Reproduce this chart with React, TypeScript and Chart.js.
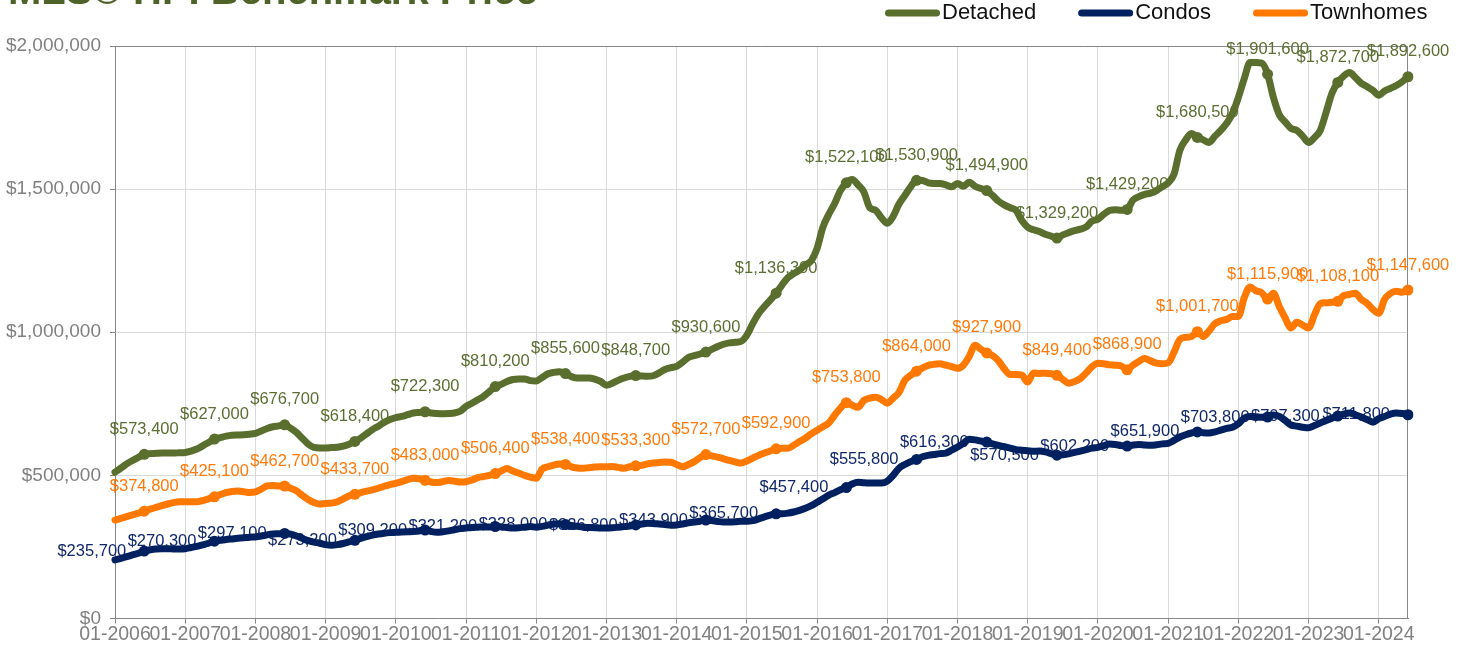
import React, { useEffect, useRef } from "react";
import { Chart, registerables } from "chart.js";

Chart.register(...registerables);

// ---------- DATA ----------
const YEARS = [2006, 2007, 2008, 2009, 2010, 2011, 2012, 2013, 2014, 2015, 2016, 2017, 2018, 2019, 2020, 2021, 2022, 2023, 2024];
const MONTHS = ["01", "02", "03", "04", "05", "06", "07", "08", "09", "10", "11", "12"];
const LAST_MONTH_2024 = 6;

const categories: string[] = [];
for (const y of YEARS) {
  for (const m of MONTHS) {
    if (y === 2024 && parseInt(m, 10) > LAST_MONTH_2024) break;
    categories.push(`${m}-${y}`);
  }
}

// Values in thousands of dollars
const detachedK = [
  511, 525, 540, 552, 563, 573.4, 576, 577, 578, 578, 578, 579,
  580, 585, 592, 603, 615, 627.0, 632, 637, 640, 641, 642, 644,
  647, 655, 664, 670, 673, 676.7, 665, 650, 630, 610, 598, 596,
  596, 597, 598, 602, 609, 618.4, 630, 645, 660, 672, 685, 695,
  702, 706, 712, 718, 720, 722.3, 718, 716, 715, 716, 718, 724,
  741, 752, 764, 776, 793, 810.2, 818, 828, 835, 837, 837, 831,
  830, 842, 855, 860, 862, 855.6, 845, 840, 840, 840, 836, 828,
  815, 822, 832, 840, 846, 848.7, 847, 846, 848, 858, 870, 876,
  881, 895, 912, 918, 924, 930.6, 940, 950, 958, 963, 965, 968,
  990, 1030, 1065, 1090, 1112, 1136.3, 1165, 1190, 1205, 1217, 1235, 1250,
  1293, 1367, 1412, 1450, 1495, 1522.1, 1534, 1515, 1490, 1435, 1426, 1400,
  1381, 1405, 1448, 1478, 1508, 1530.9, 1530, 1522, 1520, 1520, 1515, 1508,
  1520, 1510, 1524, 1510, 1502, 1494.9, 1478, 1458, 1445, 1435, 1426, 1390,
  1367, 1358, 1352, 1342, 1336, 1329.2, 1340, 1348, 1355, 1360, 1368, 1388,
  1395, 1412, 1426, 1428, 1426, 1429.2, 1462, 1474, 1482, 1486, 1495, 1508,
  1522, 1552, 1635, 1672, 1694, 1680.5, 1672, 1663, 1685, 1705, 1730, 1764,
  1820, 1885, 1942, 1942, 1940, 1901.6, 1820, 1760, 1735, 1712, 1705, 1685,
  1663, 1680, 1705, 1768, 1835, 1872.7, 1895, 1907, 1890, 1870, 1858, 1845,
  1828, 1843, 1852, 1862, 1875, 1892.6,
];

const condosK = [
  205, 210, 216, 222, 228, 235.7, 240, 243, 244, 244, 243, 243,
  244, 248, 252, 257, 263, 270.3, 273, 276, 278, 280, 282, 284,
  285, 288, 292, 295, 296, 297.1, 295, 288, 280, 272, 267, 263,
  258, 256, 258, 262, 268, 273.2, 280, 286, 291, 295, 298, 300,
  301, 302, 303, 304, 306, 309.2, 304, 301, 303, 306, 310, 314,
  316, 318, 319, 320, 320, 321.2, 320, 318, 316, 317, 319, 321,
  319, 322, 326, 330, 331, 328.0, 325, 322, 319, 318, 317, 316,
  316, 317, 319, 321, 323, 326.8, 330, 333, 332, 330, 328, 326,
  327, 330, 334, 337, 340, 343.9, 342, 339, 337, 337, 338, 340,
  340, 342, 348, 355, 361, 365.7, 366, 368, 372, 378, 385, 394,
  406, 418, 431, 440, 450, 457.4, 470, 476, 474, 473, 473, 473,
  480, 500, 525, 538, 548, 555.8, 565, 570, 573, 576, 578, 588,
  599, 612, 626, 624, 620, 616.3, 610, 605, 600, 595, 590, 588,
  586, 584, 585, 582, 576, 570.5, 572, 575, 580, 585, 590, 595,
  598, 604, 610, 608, 604, 602.2, 606, 608, 606, 605, 607, 610,
  612, 622, 634, 642, 648, 651.9, 649, 648, 652, 658, 664, 668,
  680, 700, 706, 705, 703, 703.8, 711, 706, 692, 676, 672, 668,
  666, 674, 683, 692, 700, 707.3, 714, 718, 712, 704, 695, 686,
  698, 706, 714, 718, 716, 711.8,
];

const townhomesK = [
  344, 350, 356, 362, 368, 374.8, 382, 388, 394, 400, 405, 408,
  408, 408, 408, 412, 418, 425.1, 433, 440, 444, 445, 443, 440,
  442, 452, 463, 465, 463, 462.7, 455, 446, 430, 416, 405, 400,
  402, 403, 408, 418, 428, 433.7, 440, 445, 449, 455, 462, 468,
  472, 478, 485, 490, 488, 483.0, 477, 475, 478, 482, 480, 477,
  478, 484, 492, 496, 500, 506.4, 515, 524, 515, 508, 500, 494,
  490, 522, 530, 536, 540, 538.4, 530, 526, 525, 527, 529, 530,
  530, 531, 528, 525, 530, 533.3, 535, 540, 543, 545, 547, 546,
  538, 530, 538, 548, 562, 572.7, 568, 564, 558, 552, 547, 543,
  550, 560, 570, 578, 585, 592.9, 595, 595, 605, 618, 630, 645,
  658, 670, 683, 710, 735, 753.8, 745, 738, 762, 770, 773, 765,
  752, 770, 790, 832, 850, 864.0, 875, 884, 888, 890, 885, 880,
  874, 885, 915, 955, 940, 927.9, 918, 900, 872, 852, 852, 850,
  826, 858, 856, 857, 855, 849.4, 835, 822, 828, 838, 858, 880,
  892, 890, 886, 885, 882, 868.9, 885, 898, 908, 900, 892, 890,
  893, 930, 975, 982, 985, 1001.7, 985, 1005, 1030, 1040, 1045, 1055,
  1055, 1120, 1158, 1145, 1138, 1115.9, 1136, 1090, 1050, 1015, 1035, 1025,
  1015, 1060, 1100, 1103, 1105, 1108.1, 1128, 1132, 1136, 1115, 1101, 1080,
  1066, 1115, 1136, 1143, 1140, 1147.6,
];

const SERIES_NAMES = ["Detached", "Condos", "Townhomes"];
const TITLE = "MLS® HPI Benchmark Price";
const Y_MIN = 0;
const Y_MAX = 2000;
const Y_STEP = 500;
const LABEL_MONTH = "06";

// ---------- STYLE ----------
const COLORS = ["#5a6e2e", "#002060", "#ff7800"];
const LABEL_COLORS = ["#5b6e31", "#10286a", "#ff7a0a"];
const FONT = "'Liberation Sans', Arial, sans-serif";

const fmt = (k: number) => "$" + Math.round(k * 1000).toLocaleString("en-US");
const isLabelIdx = (i: number) => categories[i].startsWith(LABEL_MONTH + "-");

const framePlugin = {
  id: "frame",
  beforeDatasetsDraw(chart: any) {
    const { ctx, chartArea: a } = chart;
    ctx.save();
    ctx.strokeStyle = "#878787";
    ctx.lineWidth = 1;
    ctx.beginPath();
    const t = Math.round(a.top) + 0.5;
    const r = Math.round(a.right) - 0.5;
    ctx.moveTo(a.left, t);
    ctx.lineTo(r, t);
    ctx.lineTo(r, a.bottom);
    ctx.stroke();
    ctx.restore();
  },
};

const labelsPlugin = {
  id: "pointLabels",
  beforeDatasetsDraw(chart: any) {
    const { ctx } = chart;
    ctx.save();
    ctx.font = `16.5px ${FONT}`;
    chart.data.datasets.forEach((ds: any, di: number) => {
      const meta = chart.getDatasetMeta(di);
      ctx.fillStyle = LABEL_COLORS[di];
      ds.data.forEach((v: number, i: number) => {
        if (!isLabelIdx(i)) return;
        const el = meta.data[i];
        const text = fmt(v);
        ctx.textBaseline = "middle";
        if (di === 1) {
          ctx.textAlign = "right";
          ctx.fillText(text, el.x - 18, el.y);
        } else {
          ctx.textAlign = "center";
          ctx.fillText(text, el.x, el.y - 25);
        }
      });
    });
    ctx.restore();
  },
};

const decorPlugin = {
  id: "decor",
  afterDraw(chart: any) {
    const { ctx } = chart;
    ctx.save();
    // title (cut off at top like the reference)
    ctx.font = `bold 40px ${FONT}`;
    ctx.fillStyle = "#4f6228";
    ctx.textAlign = "left";
    ctx.textBaseline = "alphabetic";
    ctx.fillText(TITLE, 8, 4);
    // legend
    ctx.font = `22px ${FONT}`;
    ctx.textBaseline = "middle";
    let x = 885;
    const y = 13;
    SERIES_NAMES.forEach((name, i) => {
      ctx.strokeStyle = COLORS[i];
      ctx.lineWidth = 7;
      ctx.lineCap = "round";
      ctx.beginPath();
      ctx.moveTo(x + 3.5, y);
      ctx.lineTo(x + 55 - 3.5, y);
      ctx.stroke();
      ctx.fillStyle = "#111111";
      ctx.fillText(name, x + 57, y);
      x = x + 57 + ctx.measureText(name).width + 42;
    });
    ctx.restore();
  },
};

export default function App() {
  const ref = useRef<HTMLCanvasElement | null>(null);

  useEffect(() => {
    if (!ref.current) return;
    const seriesData = [detachedK, condosK, townhomesK];
    const chart = new Chart(ref.current, {
      type: "line",
      data: {
        labels: categories,
        datasets: seriesData.map((d, i) => ({
          label: SERIES_NAMES[i],
          data: d,
          borderColor: COLORS[i],
          backgroundColor: COLORS[i],
          borderWidth: 7,
          borderCapStyle: "round",
          borderJoinStyle: "round",
          cubicInterpolationMode: "monotone",
          pointRadius: (c: any) => (isLabelIdx(c.dataIndex) ? 5.5 : 0),
          pointBackgroundColor: COLORS[i],
          pointBorderWidth: 0,
          pointHoverRadius: 0,
          fill: false,
        })),
      },
      options: {
        animation: false,
        responsive: false,
        devicePixelRatio: 1,
        events: [],
        layout: { padding: { left: 0, right: 56, top: 46, bottom: 0 } },
        plugins: { legend: { display: false }, tooltip: { enabled: false }, title: { display: false } },
        scales: {
          x: {
            type: "category",
            offset: false,
            grid: { color: "#d9d9d9", tickColor: "#878787", tickLength: 5, lineWidth: 1 },
            border: { color: "#878787", width: 1 },
            ticks: {
              autoSkip: false,
              maxRotation: 0,
              minRotation: 0,
              padding: 0,
              color: "#808080",
              font: { family: FONT, size: 19.5, lineHeight: 1.1 },
              callback: (_v: any, i: number) => (categories[i].startsWith("01-") ? categories[i] : null),
            },
            afterFit: (s: any) => {
              s.height = 35.5;
            },
          },
          y: {
            min: Y_MIN,
            max: Y_MAX,
            grid: { color: "#d9d9d9", tickColor: "#878787", tickLength: 5 },
            border: { color: "#878787", width: 1 },
            ticks: {
              stepSize: Y_STEP,
              padding: 9,
              color: "#808080",
              font: { family: FONT, size: 19 },
              callback: (v: any) => fmt(Number(v)),
            },
            afterFit: (s: any) => {
              s.width = 115;
            },
          },
        },
      } as any,
      plugins: [framePlugin, labelsPlugin, decorPlugin],
    });
    return () => chart.destroy();
  }, []);

  return (
    <canvas
      ref={ref}
      width={1464}
      height={654}
      style={{ position: "fixed", left: 0, top: 0, width: 1464, height: 654, background: "#ffffff" }}
    />
  );
}
